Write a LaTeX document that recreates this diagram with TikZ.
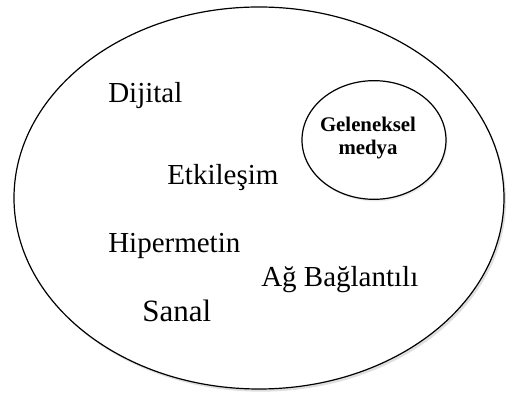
\documentclass[tikz,border=0pt]{standalone}
\usepackage{fontspec}
\setmainfont{Liberation Serif}[Ligatures=TeX]
\newfontfamily\timesfont{Liberation Serif}
\usepackage{tikz}
\usetikzlibrary{shapes.geometric, shadows, positioning}
\tikzset{
	outer/.style={
		ellipse, 
		minimum width=367.5pt, 
		minimum height=286.5pt, 
		draw=black, 
		line width=0.9pt,
		fill=white,
		drop shadow={shadow xshift=1.5pt, shadow yshift=-2pt, opacity=0.25}
	},
	inner/.style={
		ellipse, 
		minimum width=108pt, 
		minimum height=89pt, 
		draw=black, 
		line width=0.9pt,
		fill=white,
		drop shadow={shadow xshift=1pt, shadow yshift=-1.5pt, opacity=0.15}
	},
	term/.style={
		anchor=base west, 
		inner sep=0pt,
		font=\timesfont\fontsize{21.75}{26}\selectfont
	},
	label/.style={
		align=center, 
		inner sep=0pt,
		font=\timesfont\fontsize{15.6}{17.25}\selectfont\bfseries
	}
}

\begin{document}
\begin{tikzpicture}[x=0.75pt, y=0.75pt]
			\useasboundingbox (0,0) rectangle (512,396);
			\node (yeni) [outer] at (259,198) {};
			\node (geleneksel) [inner] at (374,256) {};
			\node (medya) [label] at (368,258) {Geleneksel\\medya};
			
			\node (dijital) [term] at (108,293) {Dijital};
			\node (etkilesim) [term] at (167,211) {Etkileşim};
			\node (hipermetin) [term] at (108,143) {Hipermetin};
			\node (ag) [term] at (261,109) {Ağ Bağlantılı};
			\node (sanal) [term, font=\timesfont\fontsize{23.25}{28}\selectfont] at (142,74) {Sanal};
		\end{tikzpicture}
\end{document}
